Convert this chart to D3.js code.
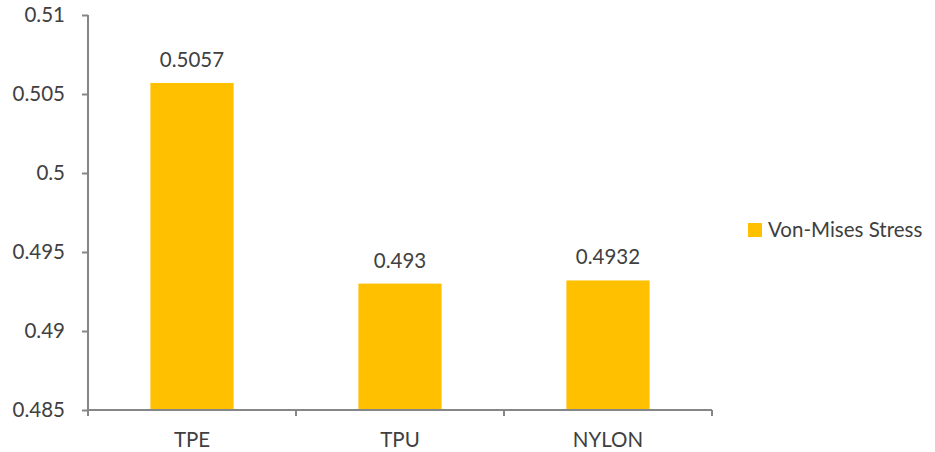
<!DOCTYPE html>
<html>
<head>
<meta charset="utf-8">
<script src="https://cdn.jsdelivr.net/npm/d3@7"></script>
<style>
  html, body { margin: 0; padding: 0; background: #fff; }
  svg { display: block; font-family: Lato, "Open Sans", "Liberation Sans", sans-serif; }
</style>
</head>
<body>
<svg id="chart" width="935" height="452"></svg>
<script>
// Von-Mises stress per material
const materials = ["TPE", "TPU", "NYLON"];
const stressValues = [0.5057, 0.493, 0.4932];
const stressLabels = ["0.5057", "0.493", "0.4932"];
const yTicks = [0.485, 0.49, 0.495, 0.5, 0.505, 0.51];
const yTickLabels = ["0.485", "0.49", "0.495", "0.5", "0.505", "0.51"];
const seriesName = "Von-Mises Stress";

const svg = d3.select("#chart");
const plot = { left: 88, right: 712, top: 15, bottom: 410 };
const barColor = "#FFC000";
const axisColor = "#868686";
const textColor = "#404040";
const fontSize = 20.5;

const x = d3.scaleBand().domain(materials).range([plot.left, plot.right]).padding(0);
const y = d3.scaleLinear().domain([0.485, 0.51]).range([plot.bottom, plot.top]);
const barWidth = x.bandwidth() / 2.5;

// bars
svg.append("g").selectAll("rect")
  .data(materials)
  .join("rect")
  .attr("x", (d) => x(d) + (x.bandwidth() - barWidth) / 2)
  .attr("y", (d, i) => y(stressValues[i]))
  .attr("width", barWidth)
  .attr("height", (d, i) => y(0.485) - y(stressValues[i]))
  .attr("fill", barColor);

// value labels
svg.append("g").selectAll("text")
  .data(materials)
  .join("text")
  .attr("x", (d) => x(d) + x.bandwidth() / 2)
  .attr("y", (d, i) => y(stressValues[i]) - 16)
  .attr("text-anchor", "middle")
  .attr("font-size", fontSize)
  .attr("fill", textColor)
  .text((d, i) => stressLabels[i]);

// y axis
const yAxis = d3.axisLeft(y)
  .tickValues(yTicks)
  .tickFormat((d, i) => yTickLabels[i])
  .tickSize(6)
  .tickPadding(17);
const gy = svg.append("g").attr("transform", `translate(${plot.left},0)`).call(yAxis);
gy.select(".domain").attr("stroke", axisColor).attr("stroke-width", 2).attr("d", `M0,${plot.top}V${plot.bottom}`);
gy.selectAll(".tick line").attr("stroke", axisColor).attr("stroke-width", 2);
gy.selectAll(".tick text").attr("fill", textColor).attr("font-size", fontSize)
  .attr("font-family", 'Lato, "Open Sans", sans-serif');

// x axis with tick marks between categories
const xAxis = d3.axisBottom(x).tickSize(0).tickPadding(22);
const gx = svg.append("g").attr("transform", `translate(0,${plot.bottom})`).call(xAxis);
gx.select(".domain").attr("stroke", axisColor).attr("stroke-width", 2).attr("d", `M${plot.left},0H${plot.right}`);
gx.selectAll(".tick text").attr("fill", textColor).attr("font-size", fontSize)
  .attr("font-family", 'Lato, "Open Sans", sans-serif');
const boundaries = materials.map((d) => x(d)).concat([x(materials[materials.length - 1]) + x.bandwidth()]);
gx.append("g").selectAll("line")
  .data(boundaries)
  .join("line")
  .attr("x1", (d) => d).attr("x2", (d) => d)
  .attr("y1", 0).attr("y2", 6)
  .attr("stroke", axisColor).attr("stroke-width", 2);

// legend
const legend = svg.append("g").attr("transform", "translate(748,223)");
legend.append("rect").attr("width", 14).attr("height", 14).attr("fill", barColor);
legend.append("text")
  .attr("x", 20).attr("y", 14)
  .attr("font-size", fontSize)
  .attr("fill", textColor)
  .text(seriesName);
</script>
</body>
</html>
